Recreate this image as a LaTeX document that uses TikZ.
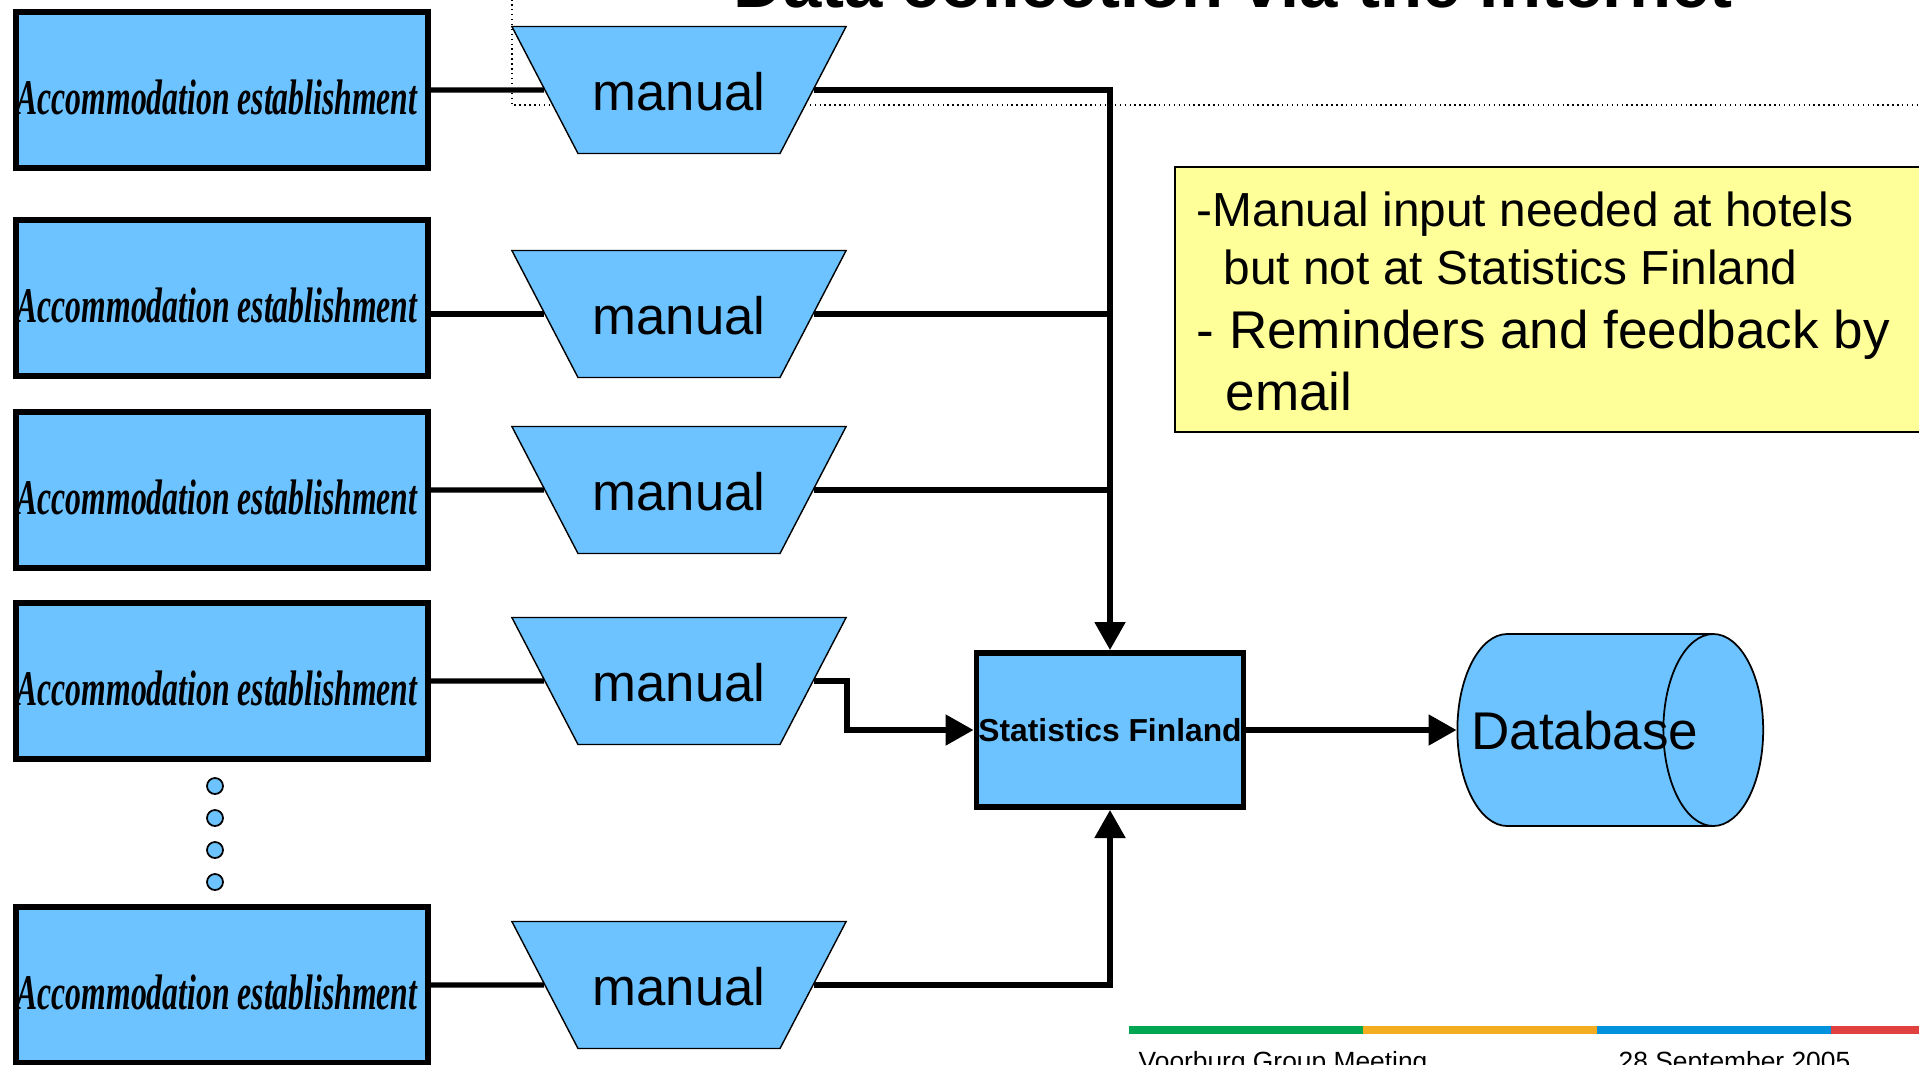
\documentclass[tikz,border=0pt]{standalone}
\usepackage{fontspec}
\setmainfont{Liberation Sans}
\newfontfamily\accfont[FakeStretch=0.635]{Liberation Serif}
\usetikzlibrary{positioning,shapes.geometric,arrows.meta}

\definecolor{boxBlue}{RGB}{108,195,255}
\definecolor{noteYellow}{RGB}{255,255,153}
\definecolor{barGreen}{RGB}{0,166,81}
\definecolor{barYellow}{RGB}{244,173,30}
\definecolor{barBlue}{RGB}{0,146,221}
\definecolor{barRed}{RGB}{224,64,62}

\tikzstyle{accBox} = [draw, line width=1.7pt, fill=boxBlue, minimum width=4.12cm, minimum height=1.56cm, inner sep=0pt, text height=0.48cm, text depth=0cm, font=\accfont\bfseries\itshape\fontsize{14.2}{16}\selectfont]
\tikzstyle{manualBox} = [draw, line width=0.4pt, fill=boxBlue, trapezium, shape border rotate=180, trapezium angle=62.5, text width=1.73cm, align=center, text height=0.40cm, text depth=0cm, inner xsep=0.145cm, inner ysep=0.435cm, font=\fontsize{15}{18}\selectfont]
\tikzstyle{sfBox} = [draw, line width=1.7pt, fill=boxBlue, minimum width=2.67cm, minimum height=1.54cm, inner sep=0pt, font=\bfseries\fontsize{9.05}{11}\selectfont]
\tikzstyle{dbCyl} = [draw, line width=0.5pt, fill=boxBlue, cylinder, aspect=2.56, minimum width=1.92cm, text height=0.39cm, text depth=0cm, inner xsep=-0.36cm, inner ysep=0pt, font=\fontsize{15.1}{18}\selectfont]
\tikzstyle{dotMark} = [draw, circle, line width=0.5pt, fill=boxBlue, minimum size=0.16cm, inner sep=0pt]
\tikzstyle{noteBox} = [draw, line width=0.5pt, fill=noteYellow, minimum width=7.7cm, minimum height=2.65cm, anchor=north west, inner sep=0pt]
\tikzstyle{noteText} = [align=left, anchor=base west, inner sep=0pt, font=\fontsize{13.6}{16.5}\selectfont]
\tikzstyle{link} = [line width=1.5pt]
\tikzstyle{tip} = [-{Triangle[length=2.8mm,width=3mm]}]

\begin{document}
\begin{tikzpicture}[node distance = 1.17cm]
    \useasboundingbox (0,0) rectangle (19.19,-10.64);

    % frame of the slide title
    \draw[densely dotted, line width=0.4pt] (5.12,0.5) |- (19.6,-1.05);
    \node[font=\bfseries\fontsize{19.6}{23}\selectfont, anchor=base] (title) at (12.33,-0.07) {Data collection via the Internet};

    \node[accBox] (acc1) at (2.22,-0.90) {Accommodation establishment\hspace*{0.1cm}};
    \node[accBox] (acc2) at (2.22,-2.98) {Accommodation establishment\hspace*{0.1cm}};
    \node[accBox] (acc3) at (2.22,-4.90) {Accommodation establishment\hspace*{0.1cm}};
    \node[accBox] (acc4) at (2.22,-6.81) {Accommodation establishment\hspace*{0.1cm}};
    \node[accBox] (acc5) at (2.22,-9.85) {Accommodation establishment\hspace*{0.1cm}};

    \node[dotMark] (dot1) at (2.15,-7.86) {};
    \node[dotMark] (dot2) at (2.15,-8.18) {};
    \node[dotMark] (dot3) at (2.15,-8.50) {};
    \node[dotMark] (dot4) at (2.15,-8.82) {};

    \node[manualBox] (man1) at (6.79,-0.90) {manual};
    \node[manualBox] (man2) at (6.79,-3.14) {manual};
    \node[manualBox] (man3) at (6.79,-4.90) {manual};
    \node[manualBox] (man4) at (6.79,-6.81) {manual};
    \node[manualBox] (man5) at (6.79,-9.85) {manual};

    \node[sfBox] (sf) at (11.10,-7.30) {Statistics Finland};
    \node[dbCyl] (db) [right = 2.1cm of sf] {Database};

    \draw[link] (acc1.east) -- (man1.west);
    \draw[link] (acc2.east |- man2.west) -- (man2.west);
    \draw[link] (acc3.east) -- (man3.west);
    \draw[link] (acc4.east) -- (man4.west);
    \draw[link] (acc5.east) -- (man5.west);

    \draw[link, tip] (man1.east) -| (sf.north);
    \draw[link] (man2.east) -- (man2.east -| sf.north);
    \draw[link] (man3.east) -- (man3.east -| sf.north);
    \draw[link, tip] (man4.east) -- ++(0.33,0) |- (sf.west);
    \draw[link, tip] (man5.east) -| (sf.south);
    \draw[link, tip] (sf.east) -- (db.west);

    \node[noteBox] (note) at (11.74,-1.66) {};
    \node[noteText] (noteTxt) at (11.96,-4.10) {-Manual input needed at hotels\\
      \hspace*{0.27cm}but not at Statistics Finland\\[1.7pt]
      \fontsize{15.1}{18}\selectfont - Reminders and feedback by\\[1pt]
      \fontsize{15.1}{18}\selectfont\hspace*{0.29cm}email};

    % footer
    \fill[barGreen] (11.29,-10.26) rectangle ++(2.34,-0.08);
    \fill[barYellow] (13.63,-10.26) rectangle ++(2.34,-0.08);
    \fill[barBlue] (15.97,-10.26) rectangle ++(2.34,-0.08);
    \fill[barRed] (18.31,-10.26) rectangle ++(2.34,-0.08);
    \node[anchor=base west, inner sep=0pt, font=\fontsize{7.5}{9}\selectfont] (meeting) at (11.38,-10.70) {Voorburg Group Meeting};
    \node[anchor=base west, inner sep=0pt, font=\fontsize{7.5}{9}\selectfont] (date) at (16.18,-10.70) {28 September 2005};
\end{tikzpicture}
\end{document}
